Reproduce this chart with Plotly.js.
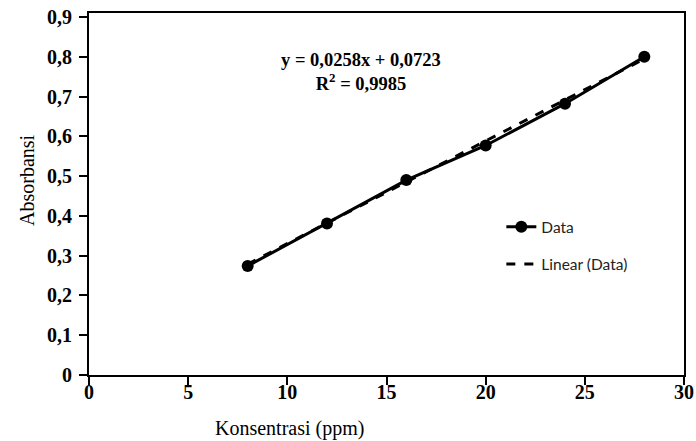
<!DOCTYPE html>
<html>
<head>
<meta charset="utf-8">
<script src="https://cdn.plot.ly/plotly-3.0.1.min.js"></script>
<style>html,body{margin:0;padding:0;background:#fff;}#chart{width:696px;height:441px;}</style>
</head>
<body>
<div id="chart"></div>
<script>
// Data
const konsentrasi = [8, 12, 16, 20, 24, 28];
const absorbansi = [0.274, 0.381, 0.490, 0.577, 0.682, 0.800];
const fitSlope = 0.0258;
const fitIntercept = 0.0723;
const fitX = [8, 28];
const equationText = "y = 0,0258x + 0,0723";
const r2Text = "R<sup>2</sup> = 0,9985";
const xTickVals = [0, 5, 10, 15, 20, 25, 30];
const xTickText = ["0", "5", "10", "15", "20", "25", "30"];
const yTickVals = [0, 0.1, 0.2, 0.3, 0.4, 0.5, 0.6, 0.7, 0.8, 0.9];
const yTickText = ["0", "0,1", "0,2", "0,3", "0,4", "0,5", "0,6", "0,7", "0,8", "0,9"];
const seriesNames = ["Data", "Linear (Data)"];
const xTitle = "Konsentrasi (ppm)";
const yTitle = "Absorbansi";

const fitY = fitX.map(x => fitSlope * x + fitIntercept);

const serif = "Liberation Serif, serif";
const tickFont = {family: serif, size: 20, color: "#000", weight: "bold"};

const traces = [
  {
    x: konsentrasi, y: absorbansi, type: "scatter", mode: "lines+markers",
    name: seriesNames[0], legendgroup: "a",
    line: {color: "#000", width: 3},
    marker: {color: "#000", size: 12}
  },
  {
    x: fitX, y: fitY, type: "scatter", mode: "lines",
    name: seriesNames[1], legendgroup: "b",
    line: {color: "#000", width: 3, dash: "dash"}
  }
];

const axisCommon = {
  showgrid: false, zeroline: false, showline: true, linecolor: "#000", linewidth: 2,
  mirror: true, ticks: "outside", ticklen: 8, tickwidth: 2, tickcolor: "#000",
  tickfont: tickFont, fixedrange: true
};

const layout = {
  width: 696, height: 441,
  margin: {l: 89, r: 12, t: 13, b: 66},
  paper_bgcolor: "#fff", plot_bgcolor: "#fff",
  showlegend: true,
  legend: {
    x: 0.693, y: 0.455, xanchor: "left", yanchor: "top",
    font: {family: "Lato, sans-serif", size: 15.5, color: "#222"},
    traceorder: "grouped", tracegroupgap: 14,
    bgcolor: "rgba(0,0,0,0)"
  },
  xaxis: Object.assign({}, axisCommon, {range: [0, 30], tickvals: xTickVals, ticktext: xTickText, ticklabelstandoff: -10}),
  yaxis: Object.assign({}, axisCommon, {range: [0, 0.91], tickvals: yTickVals, ticktext: yTickText, ticklabelstandoff: 3}),
  annotations: [
    {xref: "paper", yref: "paper", x: (361 - 89) / 595, y: (375 - 72) / 362,
     text: equationText + "<br>" + r2Text,
     xanchor: "center", yanchor: "middle", align: "center",
     showarrow: false, font: {family: serif, size: 18.5, color: "#000", weight: "bold"}},
    {xref: "paper", yref: "paper", x: (289 - 89) / 595, y: (375 - 428) / 362, text: xTitle,
     xanchor: "center", yanchor: "middle",
     showarrow: false, font: {family: serif, size: 20, color: "#000"}},
    {xref: "paper", yref: "paper", x: (27 - 89) / 595, y: (375 - 180) / 362, text: yTitle, textangle: -90,
     xanchor: "center", yanchor: "middle",
     showarrow: false, font: {family: serif, size: 20, color: "#000"}}
  ]
};

Plotly.newPlot("chart", traces, layout, {staticPlot: true, displayModeBar: false});
</script>
</body>
</html>
